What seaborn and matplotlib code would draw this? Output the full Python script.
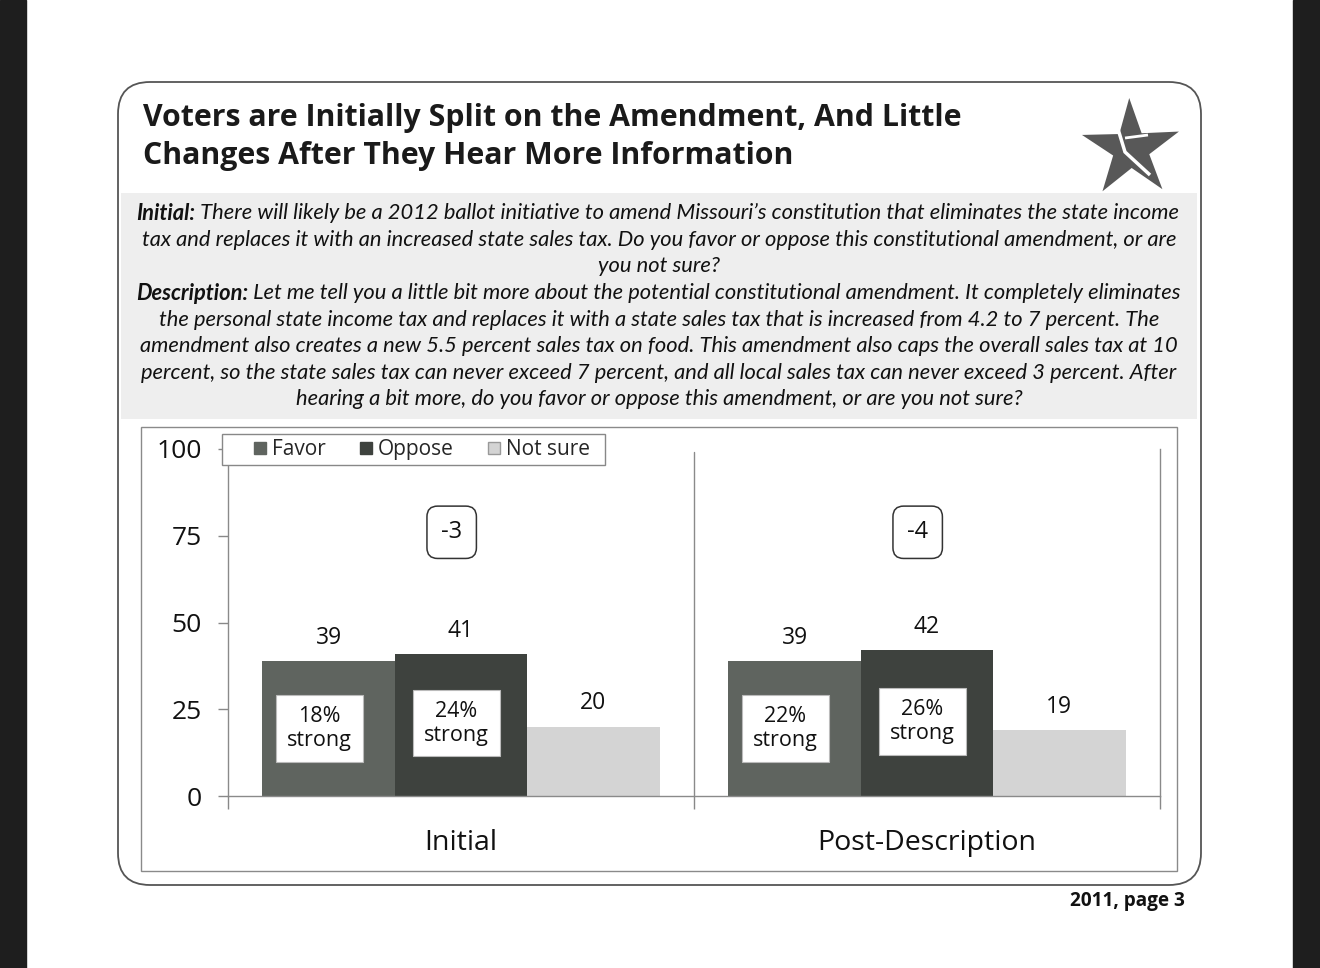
import numpy as np
import pandas as pd
import seaborn as sns
import matplotlib.pyplot as plt
from matplotlib.patches import Rectangle, FancyBboxPatch, Polygon
from matplotlib.lines import Line2D

# %% data
stages = ['Initial', 'Post-Description']
responses = ['Favor', 'Oppose', 'Not sure']
favor = [39, 39]
oppose = [41, 42]
not_sure = [20, 19]
favor_strong = [18, 22]
oppose_strong = [24, 26]
margin = [-3, -4]

title_lines = ['Voters are Initially Split on the Amendment, And Little',
               'Changes After They Hear More Information']
question = [
    ('Initial:', ' There will likely be a 2012 ballot initiative to amend Missouri\u2019s constitution that eliminates the state income'),
    ('', 'tax and replaces it with an increased state sales tax. Do you favor or oppose this constitutional amendment, or are'),
    ('', 'you not sure?'),
    ('Description:', ' Let me tell you a little bit more about the potential constitutional amendment. It completely eliminates'),
    ('', 'the personal state income tax and replaces it with a state sales tax that is increased from 4.2 to 7 percent. The'),
    ('', 'amendment also creates a new 5.5 percent sales tax on food. This amendment also caps the overall sales tax at 10'),
    ('', 'percent, so the state sales tax can never exceed 7 percent, and all local sales tax can never exceed 3 percent. After'),
    ('', 'hearing a bit more, do you favor or oppose this amendment, or are you not sure?'),
]
footer = '2011, page 3'

colors = {'Favor': '#5f645f', 'Oppose': '#3e423e', 'Not sure': '#d4d4d4'}

df = pd.DataFrame({
    'stage': stages * 3,
    'response': np.repeat(responses, 2),
    'value': favor + oppose + not_sure,
})

# %% figure
sns.set_style('white')
plt.rcParams['font.family'] = ['Open Sans', 'DejaVu Sans']

fig = plt.figure(figsize=(13.2, 9.68), dpi=100)
bg = fig.add_axes([0, 0, 1, 1])
bg.set_xlim(0, 1320)
bg.set_ylim(968, 0)
bg.axis('off')

# scanner edges
bg.add_patch(Rectangle((0, 0), 26, 968, color='#1e1e1e'))
bg.add_patch(Rectangle((1293, 0), 27, 968, color='#1e1e1e'))

# outer rounded frame, question shading, chart frame
bg.add_patch(FancyBboxPatch((118, 82), 1083, 803, boxstyle='round,pad=0,rounding_size=32',
                            fc='none', ec='#555555', lw=1.3))
bg.add_patch(Rectangle((121, 193), 1076, 226, fc='#eeeeee', ec='none'))
bg.add_patch(Rectangle((141, 427), 1036, 444, fc='white', ec='#8a8a8a', lw=1))

renderer = fig.canvas.get_renderer()


def fit(t, width):
    w = t.get_window_extent(renderer).width
    t.set_fontsize(t.get_fontsize() * width / w)
    return t


# title
t1 = bg.text(143, 118, title_lines[0], fontsize=20, fontweight='bold',
             family=['Open Sans', 'DejaVu Sans'], color='#1a1a1a', va='center')
fit(t1, 817)
bg.text(143, 156, title_lines[1], fontsize=t1.get_fontsize(), fontweight='bold',
        family=['Open Sans', 'DejaVu Sans'], color='#1a1a1a', va='center')

# question text
qsize = 14
probe = bg.text(0, 0, question[1][1], fontsize=qsize, family='Lato', style='italic')
qsize = qsize * 1040 / probe.get_window_extent(renderer).width
probe.remove()
ys = [213, 240, 266, 293, 320, 346, 373, 399]
for (head, body), y in zip(question, ys):
    if head:
        h = bg.text(136, y, head, fontsize=qsize, family='Lato', style='italic',
                    fontweight='bold', color='#111111', va='center')
        bg.annotate(body, xy=(1, 0.5), xycoords=h, fontsize=qsize, family='Lato',
                    style='italic', color='#111111', va='center', ha='left')
    else:
        bg.text(659, y, body, fontsize=qsize, family='Lato', style='italic',
                color='#111111', va='center', ha='center')

# footer
ft = bg.text(1185, 901, footer, fontsize=13, fontweight='bold',
             family=['Open Sans', 'DejaVu Sans'],
             color='#111111', ha='right', va='center')
fit(ft, 115)

# logo star
cx, cy = 1131, 149
ang = np.deg2rad(-92 + 36 * np.arange(10))
rad = np.where(np.arange(10) % 2 == 0, 51, 19)
star = np.column_stack([cx + rad * np.cos(ang), cy + rad * np.sin(ang)])
bg.add_patch(Polygon(star, closed=True, fc='#585858', ec='none'))
bg.plot([1118, 1125, 1150], [129, 152, 175], color='white', lw=2.5,
        solid_joinstyle='miter', solid_capstyle='butt')
bg.plot([1125, 1148], [138, 135], color='white', lw=2, solid_capstyle='butt')

# %% chart
ax = fig.add_axes([228 / 1320, (968 - 796) / 968, 932 / 1320, 347 / 968])
ax.patch.set_alpha(0)
sns.barplot(data=df, x='stage', y='value', hue='response', hue_order=responses,
            palette=colors, width=0.852, saturation=1, gap=0, legend=False,
            edgecolor='none', ax=ax)
ax.set_xlim(-0.5, 1.5)
ax.set_ylim(0, 100)
ax.set_yticks([0, 25, 50, 75, 100])
ax.set_xlabel('')
ax.set_ylabel('')
ax.tick_params(axis='y', length=7, width=1, color='#888888', pad=12,
               labelsize=19, labelcolor='#111111', left=True)
ax.tick_params(axis='x', which='major', length=0, pad=24, labelsize=20.5,
               labelcolor='#111111')
ax.set_xticks([-0.5, 0.5, 1.5], minor=True)
ax.tick_params(axis='x', which='minor', length=9, width=1, color='#888888',
               bottom=True)
for side in ['left', 'bottom', 'right']:
    ax.spines[side].set_color('#8a8a8a')
    ax.spines[side].set_linewidth(1)
ax.spines['top'].set_visible(False)
ax.axvline(0.5, color='#8a8a8a', lw=1, ymax=0.99)

for cont in ax.containers:
    ax.bar_label(cont, fmt='%d', padding=8, fontsize=16.5, color='#111111')

# strong boxes and net margins
bar_w = 0.852 / 3
box = dict(boxstyle='square,pad=0.5', fc='white', ec='#bbbbbb', lw=0.8)
for i in range(len(stages)):
    ax.text(i - bar_w - 0.02, favor[i] / 2, f'{favor_strong[i]}%\nstrong', ha='center',
            va='center', fontsize=15.5, color='#111111', bbox=box, linespacing=1.2)
    ax.text(i - 0.01, oppose[i] / 2 + 0.5, f'{oppose_strong[i]}%\nstrong', ha='center',
            va='center', fontsize=15.5, color='#111111', bbox=box, linespacing=1.2)
    ax.text(i - 0.02, 76, f'{margin[i]}', ha='center', va='center', fontsize=17,
            color='#111111',
            bbox=dict(boxstyle='round,pad=0.6,rounding_size=0.45', fc='white',
                      ec='#333333', lw=1.1))

# legend with a hand-drawn frame (white box over the axis line)
ax.add_artist(Rectangle((222, 434), 383, 31, transform=bg.transData, fc='white',
                        ec='#888888', lw=1, clip_on=False, zorder=5))
handles = [Line2D([], [], marker='s', ls='none', markersize=9,
                  markerfacecolor=colors[r],
                  markeredgecolor='#999999' if r == 'Not sure' else colors[r])
           for r in responses]
leg = ax.legend(handles, responses, ncol=3, loc='center left',
                bbox_to_anchor=((250 - 228) / 932, (796 - 449.5) / 347), frameon=False,
                fontsize=15, handletextpad=0.05, columnspacing=1.45,
                borderpad=0, handlelength=1.0, borderaxespad=0)
leg.set_zorder(6)

fig.savefig('out.png', dpi=100, facecolor='white')
